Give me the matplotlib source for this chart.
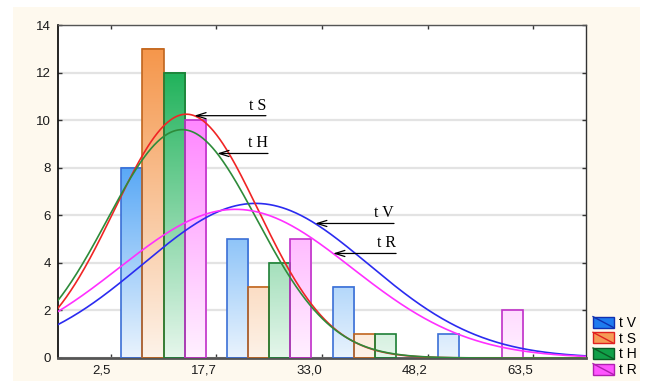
import numpy as np
import matplotlib
matplotlib.use("Agg")
import matplotlib.pyplot as plt
from matplotlib.patches import Rectangle
from matplotlib.colors import LinearSegmentedColormap
from matplotlib.legend_handler import HandlerBase
from matplotlib.lines import Line2D

# ---------------- data ----------------
series = ["t V", "t S", "t H", "t R"]
bin_edges = [2.5, 17.75, 33.0, 48.25, 63.5]
tick_labels = ["2,5", "17,7", "33,0", "48,2", "63,5"]
counts_V = [8, 5, 3, 1]
counts_S = [13, 3, 1, 0]
counts_H = [12, 4, 1, 0]
counts_R = [10, 5, 0, 2]
# fitted normal curves: (mean, sd, peak height)
fit_V = (23.4, 16.3, 6.5)
fit_S = (13.4, 10.4, 10.25)
fit_H = (12.8, 10.8, 9.6)
fit_R = (20.5, 16.8, 6.25)
# annotation arrows: (tip x on curve, line end x)
arrow_V = (32.0, 43.4)
arrow_S = (14.55, 24.9)
arrow_H = (17.87, 25.2)
arrow_R = (34.6, 43.7)

counts = [counts_V, counts_S, counts_H, counts_R]
fits = [fit_V, fit_S, fit_H, fit_R]
arrows = [arrow_V, arrow_S, arrow_H, arrow_R]

# ---------------- styles ----------------
full_c = ["#5AA9F6", "#F5974C", "#22B35C", "#FF88FF"]
light_c = ["#E9F3FD", "#FDF2E8", "#E5F6EB", "#FFF0FF"]
edge_c = ["#3B6FD6", "#C0651E", "#1E7F36", "#C030C8"]
curve_c = ["#2B2BF0", "#F02525", "#2E8B3A", "#FF30FF"]
leg_fill = ["#1F7BEF", "#F59B55", "#10A048", "#FF55FF"]
leg_diag = ["#1030B0", "#E02020", "#0B5A25", "#B020B0"]

W, H = 647, 381
fig = plt.figure(figsize=(W / 100, H / 100), dpi=100, facecolor="white")
# cream panel
fig.add_artist(Rectangle((13 / W, 0), (640 - 13) / W, (H - 7) / H,
                         transform=fig.transFigure, facecolor="#FEF9EE",
                         edgecolor="none", zorder=-10))

ax = fig.add_axes([58 / W, 1 - 358 / H, (586 - 58) / W, (358 - 25) / H])
ax.set_facecolor("white")

binw = bin_edges[1] - bin_edges[0]
slot = binw / 5.0
xmin, xmax = bin_edges[0] - binw / 2, bin_edges[-1] + binw / 2
lefts = np.array(bin_edges[:-1])

for k in range(4):
    cvals = np.array(counts[k], dtype=float)
    xs = lefts + slot * (0.5 + k)
    bars = ax.bar(xs, cvals, width=slot, align="edge", facecolor="none",
                  edgecolor=edge_c[k], linewidth=1.2, zorder=3)
    cmap = LinearSegmentedColormap.from_list("g%d" % k, [light_c[k], full_c[k]])
    mx = cvals.max()
    for b, h in zip(bars, cvals):
        if h <= 0:
            b.set_visible(False)
            continue
        grad = np.linspace(0, h / mx, 64)[:, None]
        ax.imshow(grad, extent=[b.get_x(), b.get_x() + b.get_width(), 0, h],
                  origin="lower", aspect="auto", cmap=cmap, vmin=0, vmax=1,
                  interpolation="bilinear", zorder=2)

xx = np.linspace(xmin, xmax, 500)
def curve(fit, x):
    m, s, p = fit
    return p * np.exp(-0.5 * ((x - m) / s) ** 2)

for k in range(4):
    ax.plot(xx, curve(fits[k], xx), color=curve_c[k], lw=1.2, zorder=4)

for k in range(4):
    tx, ex = arrows[k]
    ty = curve(fits[k], tx)
    ax.annotate("", xy=(tx, ty), xytext=(ex, ty),
                arrowprops=dict(arrowstyle="->,head_length=0.7,head_width=0.22",
                                lw=0.9, color="black", shrinkA=0, shrinkB=0),
                zorder=5)
    ax.annotate(series[k], xy=(ex, ty), xytext=(0, 1.5), textcoords="offset points",
                ha="right", va="bottom", fontsize=11.5, family="Liberation Serif",
                color="black", zorder=5)

ax.set_xlim(xmin, xmax)
ax.set_ylim(0, 14)
ax.set_yticks(range(0, 15, 2))
ax.set_xticks(bin_edges)
ax.set_xticklabels(tick_labels, ha="right")
ax.tick_params(direction="in", length=3, top=True, right=True, width=1,
               labelsize=9.5, pad=5, colors="#333333", labelcolor="#1A1A1A")
for lab in ax.get_xticklabels() + ax.get_yticklabels():
    lab.set_family("Liberation Sans")
ax.yaxis.grid(True, color="#E3E3E3", lw=1.6)
ax.set_axisbelow(True)
ax.spines["left"].set_color("black"); ax.spines["left"].set_linewidth(1.2)
ax.spines["bottom"].set_color("#555555"); ax.spines["bottom"].set_linewidth(2)
ax.spines["top"].set_color("#555555"); ax.spines["top"].set_linewidth(1)
ax.spines["right"].set_color("#333333"); ax.spines["right"].set_linewidth(1)

class DiagHandler(HandlerBase):
    def create_artists(self, legend, orig, xd, yd, width, height, fontsize, trans):
        r = Rectangle((-xd, -yd), width, height, facecolor=orig.get_facecolor(),
                      edgecolor=orig.get_edgecolor(), lw=1, transform=trans)
        l = Line2D([-xd, -xd + width], [-yd + height, -yd], color=orig._diag,
                   lw=1, transform=trans)
        return [r, l]

handles = []
for k in range(4):
    p = Rectangle((0, 0), 1, 1, facecolor=leg_fill[k], edgecolor=leg_diag[k])
    p._diag = leg_diag[k]
    handles.append(p)
fig.legend(handles, series, loc="lower left", bbox_to_anchor=(593 / W, 4 / H),
           frameon=False, handlelength=1.5, handleheight=0.85,
           handletextpad=0.35, labelspacing=0.12, borderpad=0, borderaxespad=0,
           prop={"family": "Liberation Sans", "size": 10},
           handler_map={Rectangle: DiagHandler()})

fig.savefig("out.png", dpi=100, facecolor="white")
